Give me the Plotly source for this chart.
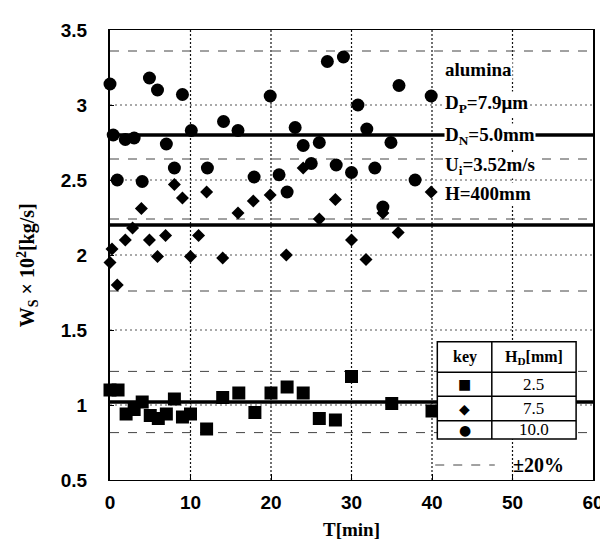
import plotly.graph_objects as go

# ---- data ----
sq_t = [0, 1, 2, 3, 4, 5, 6, 7, 8, 9, 10, 12, 14, 16, 18, 20, 22, 24, 26, 28, 30, 35, 40]
sq_w = [1.10, 1.10, 0.94, 0.97, 1.02, 0.93, 0.91, 0.94, 1.04, 0.92, 0.94, 0.84, 1.05, 1.08, 0.95,
        1.08, 1.12, 1.08, 0.91, 0.90, 1.19, 1.01, 0.96]

di_t = [0, 0.25, 0.9, 1.9, 2.8, 3.9, 4.9, 5.9, 6.9, 8.0, 9.0, 10.0, 11.0, 12.0, 14.0, 15.9,
        17.8, 19.9, 21.9, 24.0, 26.0, 28.0, 30.0, 31.8, 33.9, 35.8, 39.9]
di_w = [1.95, 2.04, 1.80, 2.10, 2.18, 2.31, 2.10, 1.99, 2.13, 2.47, 2.38, 1.99, 2.13, 2.42, 1.98, 2.28,
        2.36, 2.40, 2.00, 2.58, 2.24, 2.37, 2.10, 1.97, 2.28, 2.15, 2.42]

ci_t = [0, 0.4, 0.9, 1.9, 3.0, 4.0, 4.9, 5.9, 7.0, 8.0, 9.0, 10.1, 12.1, 14.1, 15.9, 17.9, 19.9,
        21.0, 22.0, 23.0, 24.0, 25.0, 26.0, 27.0, 28.1, 29.0, 30.0, 30.8, 31.9, 32.9, 33.9, 34.9,
        35.9, 37.9, 39.9]
ci_w = [3.14, 2.80, 2.50, 2.77, 2.78, 2.49, 3.18, 3.10, 2.74, 2.58, 3.07, 2.83, 2.58, 2.89, 2.83,
        2.52, 3.06, 2.535, 2.42, 2.85, 2.73, 2.61, 2.75, 3.29, 2.60, 3.32, 2.55, 3.00, 2.84, 2.58,
        2.32, 2.75, 3.13, 2.50, 3.06]

mean_levels = [2.8, 2.2, 1.02]
band = 0.20

x_ticks = [0, 10, 20, 30, 40, 50, 60]
y_ticks = [0.5, 1, 1.5, 2, 2.5, 3, 3.5]

info_lines = ["alumina", "D<sub>P</sub>=7.9μm", "D<sub>N</sub>=5.0mm", "U<sub>i</sub>=3.52m/s", "H=400mm"]
info_y = [3.24, 3.007, 2.793, 2.593, 2.407]

key_syms = ["■", "◆", "●"]
key_vals = ["2.5", "7.5", "10.0"]

SERIF = "Liberation Serif, Times New Roman, serif"
SANS = "Liberation Sans, Arial, sans-serif"

fig = go.Figure()
fig.add_trace(go.Scatter(x=sq_t, y=sq_w, mode="markers", cliponaxis=False,
                         marker=dict(symbol="square", size=13, color="black")))
fig.add_trace(go.Scatter(x=di_t, y=di_w, mode="markers", cliponaxis=False,
                         marker=dict(symbol="diamond", size=10, color="black")))
fig.add_trace(go.Scatter(x=ci_t, y=ci_w, mode="markers", cliponaxis=False,
                         marker=dict(symbol="circle", size=13, color="black")))

shapes = []
# dotted grid
for xv in x_ticks[1:-1]:
    shapes.append(dict(type="line", xref="x", yref="y", x0=xv, x1=xv, y0=y_ticks[0], y1=y_ticks[-1],
                       line=dict(color="#111", width=1.2, dash="2px,2px"), layer="below"))
for yv in y_ticks[1:-1]:
    shapes.append(dict(type="line", xref="x", yref="y", x0=x_ticks[0], x1=x_ticks[-1], y0=yv, y1=yv,
                       line=dict(color="#555", width=1.2, dash="2px,3px"), layer="below"))

for m in mean_levels:
    shapes.append(dict(type="line", xref="x", yref="y", x0=0, x1=60, y0=m, y1=m,
                       line=dict(color="black", width=3.5), layer="above"))
    for f in (1 + band, 1 - band):
        shapes.append(dict(type="line", xref="x", yref="y", x0=0, x1=60, y0=m * f, y1=m * f,
                           line=dict(color="#444", width=1, dash="dash"), layer="below"))

# key table
tx0, tx1, tx2 = 40.66, 47.43, 57.9
ty = [1.422, 1.218, 1.058, 0.895, 0.773]
shapes.append(dict(type="rect", xref="x", yref="y", x0=tx0, x1=tx2, y0=ty[-1], y1=ty[0],
                   fillcolor="white", line=dict(color="black", width=1.5), layer="above"))
shapes.append(dict(type="line", xref="x", yref="y", x0=tx1, x1=tx1, y0=ty[-1], y1=ty[0],
                   line=dict(color="black", width=1.5), layer="above"))
for yy in ty[1:-1]:
    shapes.append(dict(type="line", xref="x", yref="y", x0=tx0, x1=tx2, y0=yy, y1=yy,
                       line=dict(color="black", width=1.5), layer="above"))
shapes.append(dict(type="line", xref="x", yref="y", x0=40.4, x1=47.8, y0=0.6, y1=0.6,
                   line=dict(color="#444", width=1, dash="dash"), layer="above"))

annotations = []
for t, yv in zip(info_lines, info_y):
    annotations.append(dict(x=41.5, y=yv, xref="x", yref="y", text="<b>" + t + "</b>",
                            showarrow=False, xanchor="left", yanchor="middle", bgcolor="white",
                            borderpad=0, font=dict(family=SERIF, size=19, color="black")))
annotations.append(dict(x=(tx0 + tx1) / 2, y=(ty[0] + ty[1]) / 2, xref="x", yref="y", text="<b>key</b>",
                        showarrow=False, font=dict(family=SERIF, size=16, color="black")))
annotations.append(dict(x=(tx1 + tx2) / 2, y=(ty[0] + ty[1]) / 2, xref="x", yref="y",
                        text="<b>H<sub>D</sub>[mm]</b>",
                        showarrow=False, font=dict(family=SERIF, size=16, color="black")))
for i, (s, v) in enumerate(zip(key_syms, key_vals)):
    yc = (ty[i + 1] + ty[i + 2]) / 2
    annotations.append(dict(x=(tx0 + tx1) / 2, y=yc, xref="x", yref="y", text=s,
                            showarrow=False, font=dict(family="DejaVu Sans", size=14, color="black")))
    annotations.append(dict(x=(tx1 + tx2) / 2, y=yc, xref="x", yref="y", text=v,
                            showarrow=False, font=dict(family=SERIF, size=17, color="black")))
annotations.append(dict(x=53.2, y=0.6, xref="x", yref="y", text="<b>±20%</b>",
                        showarrow=False, font=dict(family=SERIF, size=20, color="black")))
annotations.append(dict(x=-0.17, y=0.477, xref="paper", yref="paper", xanchor="center", yanchor="middle",
                        text="<b>W<sub>S</sub> × 10<sup>2</sup>[kg/s]</b>", textangle=-90,
                        showarrow=False, font=dict(family=SERIF, size=20, color="black")))

fig.update_layout(
    width=608, height=543,
    margin=dict(l=102, r=19, t=21, b=71),
    paper_bgcolor="white", plot_bgcolor="white",
    showlegend=False,
    shapes=shapes, annotations=annotations,
    xaxis=dict(range=[0, 60], tickvals=x_ticks, ticktext=[str(v) for v in x_ticks],
               showline=True, linecolor="black", linewidth=1, mirror=True,
               ticks="inside", ticklen=6, tickcolor="black",
               showgrid=False, zeroline=False,
               tickfont=dict(family=SANS, size=19, color="black", weight="bold"), ticklabelstandoff=5,
               title=dict(text="<b>T[min]</b>", font=dict(family=SERIF, size=19, color="black"),
                          standoff=10)),
    yaxis=dict(range=[0.5, 3.5], tickvals=y_ticks, ticktext=[str(v) for v in y_ticks],
               showline=True, linecolor="black", linewidth=2, mirror=True,
               ticks="inside", ticklen=4, tickcolor="black",
               showgrid=False, zeroline=False,
               tickfont=dict(family=SANS, size=19, color="black", weight="bold"), ticklabelstandoff=17),
)

fig.write_html("out.html")
